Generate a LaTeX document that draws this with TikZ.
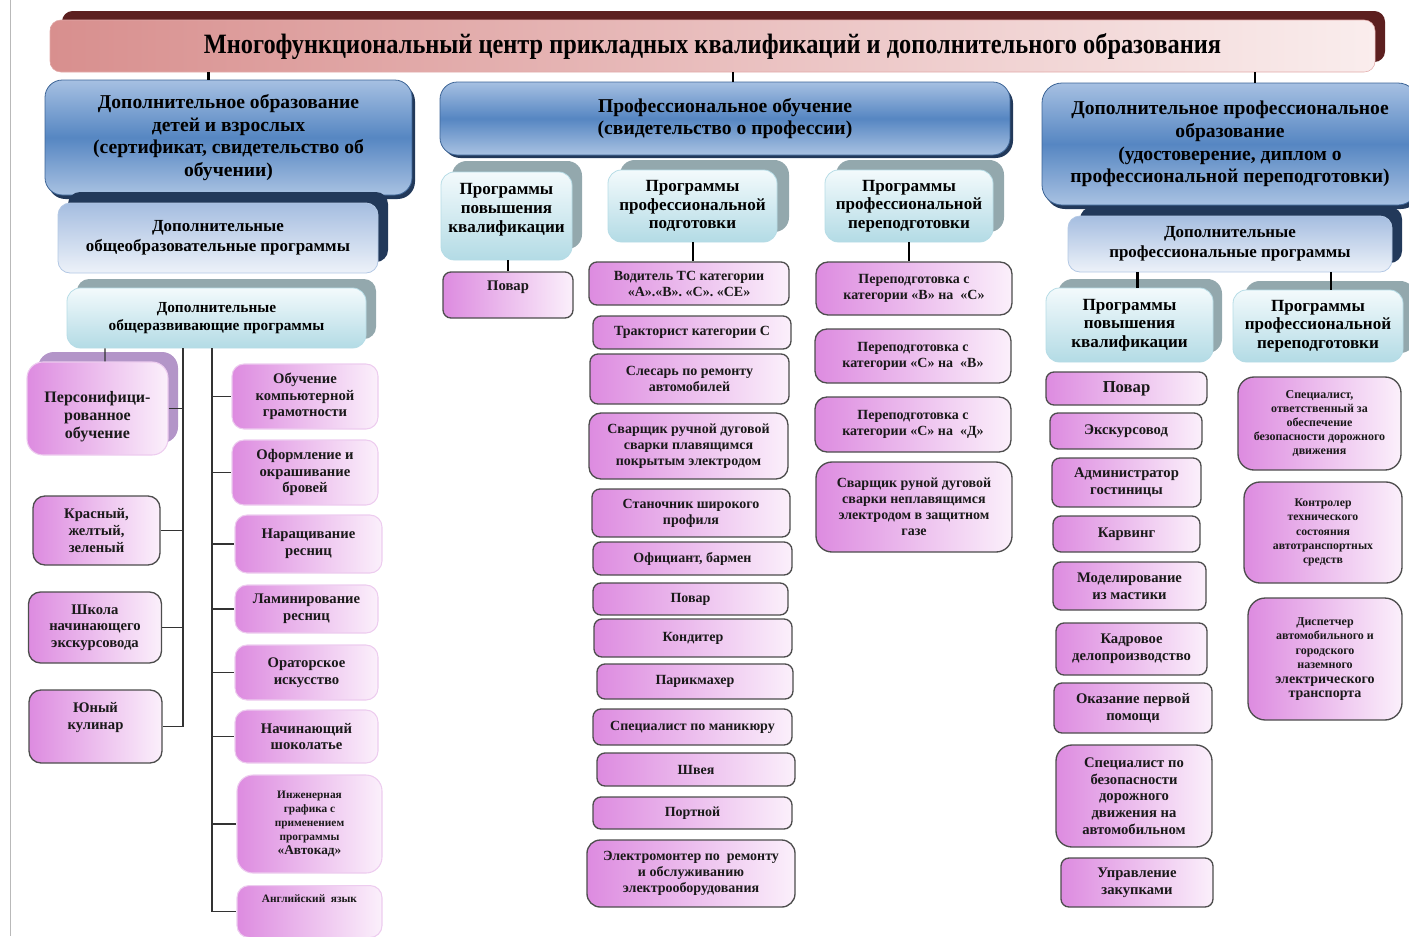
\documentclass[tikz,border=0pt]{standalone}
\usepackage{fontspec}
\setmainfont{Liberation Serif}
\newfontfamily\titlefont[FakeStretch=0.87]{Liberation Serif}
\usetikzlibrary{calc}

\definecolor{ttlS}{HTML}{5C1F1F}
\definecolor{ttlL}{HTML}{D88F8E}
\definecolor{ttlR}{HTML}{FAEDED}
\definecolor{ttlB}{HTML}{E2ABAA}
\definecolor{navyS}{HTML}{22395A}
\definecolor{blueT}{HTML}{A6C0E2}
\definecolor{blueM}{HTML}{5686C2}
\definecolor{blueB}{HTML}{A9C2E2}
\definecolor{blueD}{HTML}{3C6496}
\definecolor{subT}{HTML}{A5BDE0}
\definecolor{subBt}{HTML}{EDF2F9}
\definecolor{subD}{HTML}{B3C8E4}
\definecolor{cyT}{HTML}{F3FAFC}
\definecolor{cyB}{HTML}{B3DBE5}
\definecolor{cyD}{HTML}{B6DCE6}
\definecolor{cyS}{HTML}{93A8AD}
\definecolor{itemL}{HTML}{DD8BE0}
\definecolor{itemR}{HTML}{FBF0FB}
\definecolor{itemD}{HTML}{4D4D4D}
\definecolor{itemLt}{HTML}{EDCCEF}
\definecolor{prpS}{HTML}{B395C8}

\tikzset{
  wh/.style 2 args={minimum width=#1*0.75pt, minimum height=#2*0.75pt},
  box/.style={rounded corners=6pt, align=center, inner sep=1pt, text=black!90,
    font=\bfseries\fontsize{10.5}{12}\selectfont},
  item/.style={box, draw=itemD, line width=1pt, left color=itemL, right color=itemR},
  itemlt/.style={box, draw=itemLt, line width=0.8pt, left color=itemL, right color=itemR},
  head/.style={rounded corners=13pt, align=center, draw=blueD, line width=0.6pt,
    top color=blueT, bottom color=blueB, middle color=blueM,
    font=\bfseries\fontsize{14.7}{17}\selectfont},
  subhead/.style={rounded corners=9pt, align=center, draw=subD, line width=0.6pt,
    top color=subT, bottom color=subBt, font=\bfseries\fontsize{12.7}{15}\selectfont},
  prog/.style={rounded corners=10pt, align=center, draw=cyD, line width=0.6pt,
    top color=cyT, bottom color=cyB, font=\bfseries\fontsize{12.8}{14}\selectfont},
  link/.style={line width=1.6pt},
  tree/.style={line width=0.9pt, draw=black!80},
  big/.style={font=\bfseries\fontsize{11}{12.5}\selectfont},
  small/.style={font=\bfseries\fontsize{8.5}{10.5}\selectfont}
}

\begin{document}
\begin{tikzpicture}[x=0.75pt,y=0.75pt,yscale=-1,xscale=1]
\useasboundingbox (0,0) rectangle (1409,936);
%page edge
\draw [gray!55, line width=0.6pt] (10,0) -- (10,936);

%Shape: Title
\fill [ttlS, rounded corners=8pt] (62,11) rectangle (1385,62);
\node [wh={1325}{52}, rounded corners=8pt, draw=ttlB, left color=ttlL, right color=ttlR,
  font=\titlefont\bfseries\fontsize{21}{24}\selectfont] (title) at (712.5,46)
  {Многофункциональный центр прикладных квалификаций и дополнительного образования};

%%%%%%%% left branch
\fill [navyS, rounded corners=13pt] (48,84) rectangle (415,199);
\node [head, wh={367}{115}] (lbh) at (228.5,137.5)
  {Дополнительное образование\\детей и взрослых\\(сертификат, свидетельство об\\обучении)};
\fill [navyS, rounded corners=9pt] (68,192) rectangle (388,262);
\node [subhead, wh={320}{70}] (oob) at (218,238)
  {Дополнительные\\общеобразовательные программы};
\fill [cyS, rounded corners=9pt] (77,279) rectangle (376,339);
\node [prog, wh={299}{60}, font=\bfseries\fontsize{11.5}{14}\selectfont] (gen) at (216.5,318)
  {Дополнительные\\общеразвивающие программы};

\fill [prpS, rounded corners=12pt] (38,352) rectangle (178,443);
\node [itemlt, rounded corners=12pt, wh={141}{93}, font=\bfseries\fontsize{12}{13.5}\selectfont] (persona) at (97.5,408.5)
  {\mbox{}\\[7.5pt]Персонифици-\\рованное\\обучение};
\node [item, big, rounded corners=9pt, wh={127}{69}] (krasn) at (96.5,530.5) {Красный,\\желтый,\\зеленый};
\node [item, big, rounded corners=9pt, wh={133}{71}] (shkola) at (95,627.5) {Школа\\начинающего\\экскурсовода};
\node [item, big, rounded corners=9pt, wh={133}{73}] (yuny) at (95.5,726.5) {Юный\\кулинар\\[3pt]};

\node [itemlt, big, rounded corners=9pt, wh={146}{65}] (comp) at (305,396.5) {Обучение\\компьютерной\\грамотности};
\node [itemlt, big, rounded corners=9pt, wh={146}{65}] (brow) at (305,472.5) {Оформление и\\окрашивание\\бровей};
\node [itemlt, big, rounded corners=9pt, wh={147}{58}] (nar) at (308.5,544) {Наращивание\\ресниц};
\node [itemlt, big, rounded corners=9pt, wh={143}{48}] (lam) at (306.5,609) {Ламинирование\\ресниц};
\node [itemlt, big, rounded corners=9pt, wh={143}{55}] (orat) at (306.5,672.5) {Ораторское\\искусство};
\node [itemlt, big, rounded corners=9pt, wh={143}{53}] (shok) at (306.5,736.5) {Начинающий\\шоколатье};
\node [itemlt, small, rounded corners=12pt, wh={145}{98}] (ing) at (309.5,824)
  {Инженерная\\графика с\\применением\\программы\\{\fontsize{10}{12}\selectfont«Автокад»}};
\node [itemlt, small, rounded corners=9pt, minimum width=145*0.75pt, anchor=north,
  inner ysep=4pt, text height=9pt, text depth=22pt] (engl) at (309.5,885) {Английский\ \ язык};

%left tree
\coordinate (ltA) at (183,348);
\coordinate (ltB) at (212,348);
\draw [tree] (gen.south -| persona.north) ++(7.5,0) -- ([xshift=5.6pt]persona.north);
\draw [tree] (ltA) -- (ltA |- yuny.east) -- (yuny.east);
\draw [tree] (persona.east) -- (persona.east -| ltA);
\draw [tree] (krasn.east) -- (krasn.east -| ltA);
\draw [tree] (shkola.east) -- (shkola.east -| ltA);
\draw [tree] (ltB) -- (ltB |- engl.west);
\foreach \n in {comp,brow,nar,lam,orat,shok,ing,engl}
  \draw [tree] (ltB |- \n.west) -- (\n.west);

%%%%%%%% middle branch
\fill [navyS, rounded corners=13pt] (443,86) rectangle (1013,158);
\node [head, wh={570}{73}] (pob) at (725,118.5)
  {Профессиональное обучение\\(свидетельство о профессии)};
\fill [cyS, rounded corners=11pt] (452,161) rectangle (582,249);
\node [prog, wh={131}{88}] (pk1) at (506.5,216) {Программы\\повышения\\квалификации\\[-2pt]};
\fill [cyS, rounded corners=11pt] (620,160) rectangle (789,232);
\node [prog, wh={169}{72}] (pp1) at (692.5,206) {Программы\\профессиональной\\подготовки};
\fill [cyS, rounded corners=11pt] (836,160) rectangle (1004,232);
\node [prog, wh={168}{72}] (pr1) at (909,206) {Программы\\профессиональной\\переподготовки};

\node [item, wh={130}{46}, font=\bfseries\fontsize{11}{12}\selectfont] (povar1) at (508,295) {Повар\\[2pt]};

\node [item, wh={200}{43}] (vod) at (689,283.5) {Водитель ТС категории\\«А».«В». «С». «СЕ»};
\node [item, wh={198}{33}] (trak) at (692,332.5) {Тракторист категории С};
\node [item, wh={199}{50}] (sles) at (689.5,379) {Слесарь по ремонту\\автомобилей};
\node [item, rounded corners=9pt, wh={199}{66}] (svar1) at (688.5,446) {Сварщик ручной дуговой\\сварки плавящимся\\покрытым электродом};
\node [item, wh={198}{48}] (stan) at (691,513) {Станочник широкого\\профиля};
\node [item, wh={199}{33}] (ofic) at (692.5,558.5) {Официант, бармен};
\node [item, wh={195}{32}] (povar2) at (690.5,599) {Повар};
\node [item, wh={198}{38}] (kond) at (693,638) {Кондитер};
\node [item, wh={196}{35}] (parik) at (695,681.5) {Парикмахер};
\node [item, wh={199}{36}] (manik) at (692.5,727) {Специалист по маникюру};
\node [item, wh={198}{33}] (shveya) at (696,769.5) {Швея};
\node [item, wh={199}{32}] (portn) at (692.5,813) {Портной};
\node [item, rounded corners=10pt, wh={208}{67}] (elektr) at (691,873.5) {Электромонтер по\ \ ремонту\\и обслуживанию\\электрооборудования};

\node [item, rounded corners=9pt, wh={196}{53}] (pere1) at (914,288.5) {Переподготовка с\\категории «В» на\ \ «С»};
\node [item, rounded corners=9pt, wh={196}{54}] (pere2) at (913,356) {Переподготовка с\\категории «С» на\ \ «В»};
\node [item, rounded corners=9pt, wh={196}{55}] (pere3) at (913,424.5) {Переподготовка с\\категории «С» на\ \ «Д»};
\node [item, rounded corners=12pt, wh={196}{90}] (svar2) at (914,507) {Сварщик руной дуговой\\сварки неплавящимся\\электродом в защитном\\газе};

%%%%%%%% right branch
\fill [navyS, rounded corners=15pt] (1045,87) rectangle (1421,209);
\node [head, rounded corners=15pt, wh={376}{122}] (dpo) at (1230,144)
  {Дополнительное профессиональное\\образование\\(удостоверение, диплом о\\профессиональной переподготовки)};
\fill [navyS, rounded corners=9pt] (1080,207) rectangle (1402,263);
\node [subhead, wh={324}{56}] (dpp) at (1230,244) {Дополнительные\\профессиональные программы};
\fill [cyS, rounded corners=11pt] (1058,279) rectangle (1222,353);
\node [prog, wh={167}{74}] (pk2) at (1129.5,325) {Программы\\повышения\\квалификации};
\fill [cyS, rounded corners=11pt] (1245,281) rectangle (1415,353);
\node [prog, wh={170}{72}] (pr2) at (1318,326) {Программы\\профессиональной\\переподготовки};

\node [item, wh={161}{33}, font=\bfseries\fontsize{12.5}{14}\selectfont] (povar3) at (1126.5,388.5) {Повар};
\node [item, big, wh={152}{36}] (ekskurs) at (1126,431) {Экскурсовод};
\node [item, big, wh={149}{49}] (admin) at (1126.5,482.5) {Администратор\\гостиницы};
\node [item, big, wh={147}{36}] (karv) at (1126.5,534) {Карвинг};
\node [item, big, wh={153}{48}] (model) at (1129.5,586) {Моделирование\\из мастики};
\node [item, big, wh={151}{52}] (kadr) at (1131.5,649) {Кадровое\\делопроизводство};
\node [item, big, wh={158}{50}] (okaz) at (1133,708) {Оказание первой\\помощи};
\node [item, big, rounded corners=12pt, wh={156}{102}] (bezop) at (1134,796) {Специалист по\\безопасности\\дорожного\\движения на\\автомобильном};
\node [item, big, wh={152}{49}] (zakup) at (1137,882.5) {Управление\\закупками};

\node [item, rounded corners=12pt, wh={163}{93}, font=\bfseries\fontsize{9}{10.5}\selectfont] (otv) at (1319.5,423.5)
  {Специалист,\\ответственный за\\обеспечение\\безопасности дорожного\\движения};
\node [item, rounded corners=12pt, wh={158}{101}, font=\bfseries\fontsize{8.8}{10.8}\selectfont] (kontr) at (1323,532.5)
  {Контролер\\технического\\состояния\\автотранспортных\\средств};
\node [item, rounded corners=13pt, wh={154}{122}, font=\bfseries\fontsize{9}{10.8}\selectfont] (disp) at (1325,659)
  {Диспетчер\\автомобильного и\\городского\\наземного\\{\fontsize{10.5}{13}\selectfont электрического}\\{\fontsize{10.5}{13}\selectfont транспорта}};

%connectors
\draw [link] ([xshift=-15pt]lbh.north) -- ([xshift=-15pt]lbh.north |- title.south);
\draw [link] ([xshift=6pt]pob.north) -- ([xshift=6pt]pob.north |- title.south);
\draw [link] ([xshift=19pt]dpo.north) -- ([xshift=19pt]dpo.north |- title.south);
\draw [link] (pk1.south -| povar1.north) -- (povar1.north);
\draw [link] ([xshift=3pt]vod.north |- pp1.south) -- ([xshift=3pt]vod.north);
\draw [link] ([xshift=-4pt]pere1.north |- pr1.south) -- ([xshift=-4pt]pere1.north);
\draw [link] ([xshift=6pt]pk2.north |- dpp.south) -- ([xshift=6pt]pk2.north);
\draw [link] ([xshift=10pt]pr2.north |- dpp.south) -- ([xshift=10pt]pr2.north);
\end{tikzpicture}
\end{document}
